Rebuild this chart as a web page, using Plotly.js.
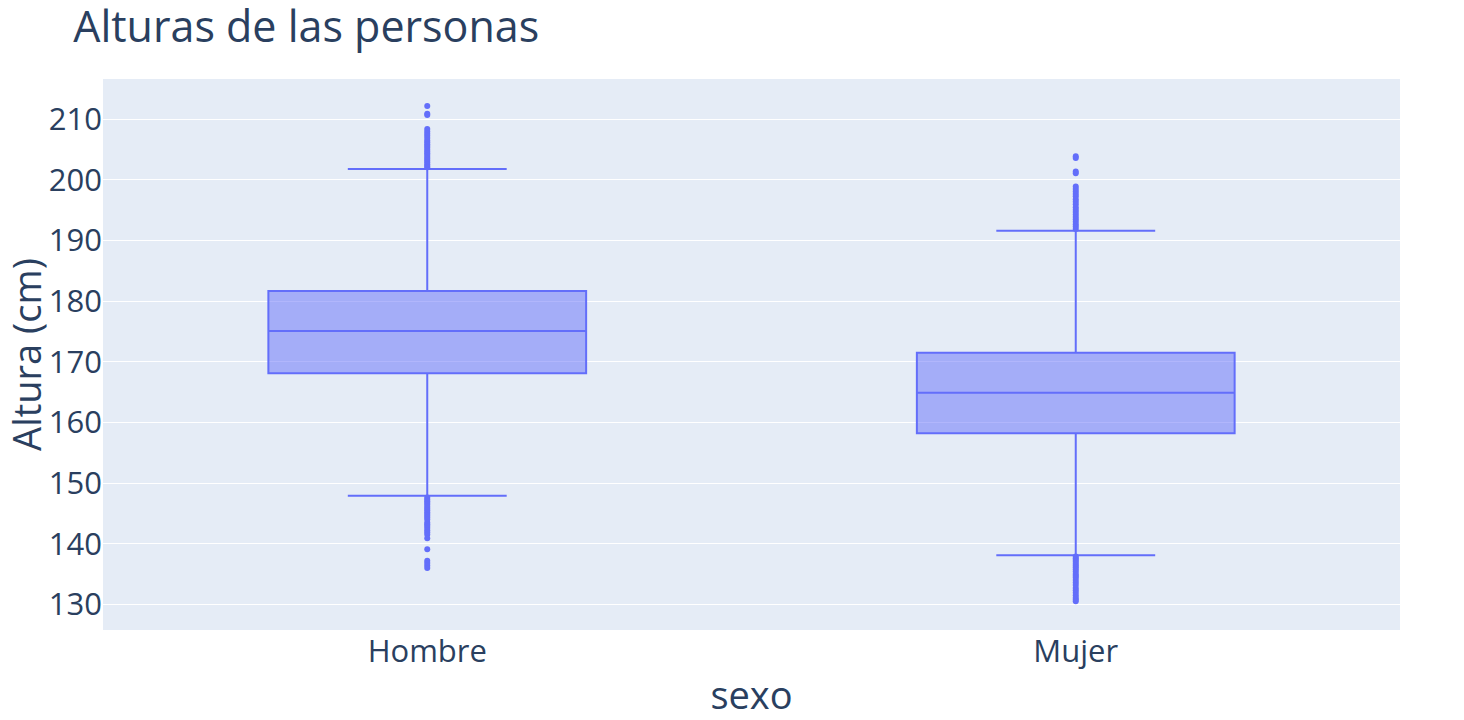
<!DOCTYPE html>
<html>
<head>
<meta charset="utf-8">
<script src="https://cdn.plot.ly/plotly-3.0.1.min.js"></script>
<style>
  html, body { margin: 0; padding: 0; background: #fff; }
  #chart { width: 1464px; height: 720px; }
</style>
</head>
<body>
<div id="chart"></div>
<script>
// box stats
const sexos = ['Hombre', 'Mujer'];
const q1 = [168.1, 158.2];
const medianas = [175.1, 164.9];
const q3 = [181.7, 171.5];
const lowerFences = [147.9, 138.1];
const upperFences = [201.8, 191.6];

// outliers beyond the whiskers
const hombreOutliers = [212.2, 210.9, 210.7, 208.4, 208.0, 207.6, 207.3, 206.9, 206.5, 206.2,
  205.9, 205.6, 205.3, 205.0, 204.7, 204.4, 204.1, 203.8, 203.5, 203.2, 202.9, 202.6, 202.3, 202.1,
  147.6, 147.3, 147.0, 146.7, 146.4, 146.1, 145.8, 145.5, 145.2, 144.9, 144.6, 144.3, 144.0,
  143.5, 143.2, 142.9, 142.6, 142.2, 141.9, 141.5, 140.9, 139.1, 137.2, 136.8, 136.4, 136.0];
const mujerOutliers = [203.9, 203.6, 201.4, 201.1, 198.9, 198.5, 198.1, 197.7, 197.3, 196.8,
  196.4, 196.0, 195.5, 195.1, 194.7, 194.3, 193.9, 193.5, 193.1, 192.7, 192.3, 191.9,
  137.9, 137.6, 137.3, 137.0, 136.7, 136.4, 136.1, 135.8, 135.4, 135.0, 134.7, 134.4, 134.0,
  133.6, 133.2, 132.7, 132.3, 131.9, 131.5, 131.1, 130.8, 130.5];

const azul = '#636efa';

let boxTrace = {
  type: 'box',
  x: sexos,
  q1: q1,
  median: medianas,
  q3: q3,
  lowerfence: lowerFences,
  upperfence: upperFences,
  boxpoints: false,
  marker: {color: azul},
  line: {color: azul},
  showlegend: false
}

let outlierTrace = {
  type: 'scatter',
  mode: 'markers',
  x: hombreOutliers.map(() => 'Hombre').concat(mujerOutliers.map(() => 'Mujer')),
  y: hombreOutliers.concat(mujerOutliers),
  marker: {color: azul, size: 6},
  showlegend: false
}

let layout = {
  width: 1464,
  height: 720,
  font: {family: '"Open Sans", verdana, arial, sans-serif', color: '#2a3f5f', size: 31},
  paper_bgcolor: '#fff',
  plot_bgcolor: '#E5ECF6',
  margin: {l: 103, r: 64, t: 79, b: 90},
  title: {text: 'Alturas de las personas', font: {size: 43}, x: 0.05, xanchor: 'left', y: 0.962, yanchor: 'middle'},
  boxmode: 'group',
  xaxis: {
    title: {text: 'sexo', font: {size: 38}},
    type: 'category',
    range: [-0.5, 1.5],
    showgrid: false,
    showline: false,
    zeroline: false,
    ticks: '',
    tickfont: {size: 31}
  },
  yaxis: {
    title: {text: 'Altura (cm)', font: {size: 38}},
    range: [125.76, 216.65],
    dtick: 10,
    gridcolor: 'white',
    gridwidth: 1,
    zeroline: false,
    ticks: '',
    tickfont: {size: 31}
  }
}

Plotly.newPlot('chart', [boxTrace, outlierTrace], layout, {displayModeBar: false, staticPlot: true});
</script>
</body>
</html>
